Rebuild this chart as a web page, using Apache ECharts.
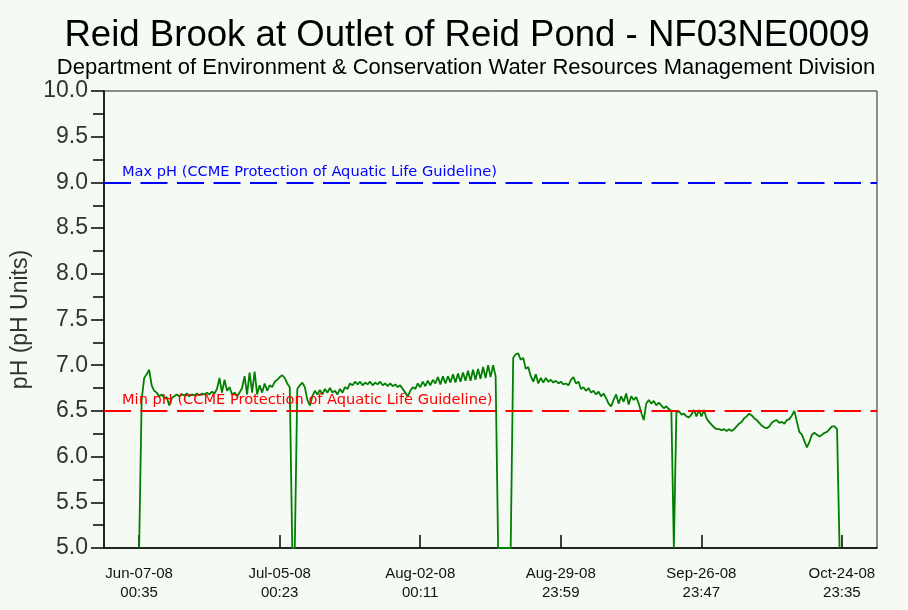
<!DOCTYPE html>
<html>
<head>
<meta charset="utf-8">
<script src="https://cdn.jsdelivr.net/npm/echarts@6/dist/echarts.min.js"></script>
<style>
  html, body { margin: 0; padding: 0; background: #f5faf5; }
  #chart { width: 908px; height: 610px; }
</style>
</head>
<body>
<div id="chart"></div>
<script>
// Station and chart text
const titleText = 'Reid Brook at Outlet of Reid Pond - NF03NE0009';
const subtitleText = 'Department of Environment & Conservation Water Resources Management Division';
const yAxisName = 'pH (pH Units)';

// Date/time tick labels along the bottom axis
const xTickLabels = [
  'Jun-07-08 00:35', 'Jul-05-08 00:23', 'Aug-02-08 00:11',
  'Aug-29-08 23:59', 'Sep-26-08 23:47', 'Oct-24-08 23:35'
];

// pH readings, one every 12 hours from the first reading.
// Dropouts (no reading) are logged at the bottom of the scale.
const firstReading = 'Jun-07-08 00:35';
const readingStepHours = 12;
const phReadings = [
  5.0, 6.62, 6.86, 6.90, 6.95, 6.78, 6.72, 6.70, 6.66, 6.68,
  6.64, 6.65, 6.56, 6.64, 6.66, 6.68, 6.66, 6.68, 6.67, 6.69,
  6.66, 6.68, 6.67, 6.69, 6.67, 6.69, 6.68, 6.70, 6.68, 6.71,
  6.69, 6.74, 6.86, 6.70, 6.84, 6.72, 6.76, 6.68, 6.70, 6.66,
  6.70, 6.75, 6.88, 6.68, 6.92, 6.70, 6.93, 6.68, 6.78, 6.70,
  6.80, 6.72, 6.78, 6.76, 6.82, 6.84, 6.87, 6.89, 6.86, 6.80,
  6.76, 5.0, 5.0, 6.74, 6.78, 6.81, 6.76, 6.62, 6.56, 6.66,
  6.72, 6.68, 6.73, 6.68, 6.74, 6.70, 6.75, 6.70, 6.72, 6.68,
  6.74, 6.70, 6.76, 6.74, 6.80, 6.78, 6.82, 6.79, 6.82, 6.78,
  6.81, 6.79, 6.82, 6.78, 6.81, 6.79, 6.82, 6.78, 6.80, 6.77,
  6.80, 6.77, 6.79, 6.76, 6.78, 6.74, 6.70, 6.66, 6.72, 6.76,
  6.74, 6.80, 6.76, 6.82, 6.77, 6.83, 6.78, 6.84, 6.80, 6.87,
  6.79, 6.88, 6.80, 6.88, 6.81, 6.90, 6.81, 6.91, 6.82, 6.92,
  6.83, 6.94, 6.83, 6.95, 6.84, 6.96, 6.85, 6.98, 6.86, 7.00,
  6.87, 7.00, 6.88, 5.0, 5.0, 5.0, 5.0, 5.0, 5.0, 7.08,
  7.12, 7.13, 7.06, 7.08, 6.96, 6.98, 6.88, 6.82, 6.90, 6.80,
  6.86, 6.81, 6.86, 6.82, 6.84, 6.81, 6.83, 6.80, 6.82, 6.79,
  6.80, 6.78, 6.84, 6.87, 6.80, 6.82, 6.74, 6.76, 6.72, 6.75,
  6.70, 6.72, 6.68, 6.71, 6.66, 6.69, 6.64, 6.58, 6.55, 6.62,
  6.68, 6.58, 6.66, 6.60, 6.69, 6.57, 6.66, 6.62, 6.65, 6.58,
  6.48, 6.40, 6.58, 6.62, 6.58, 6.61, 6.56, 6.59, 6.56, 6.53,
  6.55, 6.52, 6.50, 5.0, 6.48, 6.50, 6.46, 6.47, 6.44, 6.43,
  6.46, 6.51, 6.44, 6.51, 6.44, 6.51, 6.42, 6.38, 6.35, 6.32,
  6.30, 6.30, 6.29, 6.30, 6.28, 6.30, 6.28, 6.30, 6.33, 6.36,
  6.38, 6.42, 6.44, 6.47, 6.45, 6.42, 6.40, 6.37, 6.34, 6.32,
  6.31, 6.33, 6.37, 6.39, 6.40, 6.37, 6.38, 6.36, 6.40, 6.41,
  6.45, 6.50, 6.38, 6.27, 6.24, 6.17, 6.10, 6.16, 6.24, 6.26,
  6.24, 6.22, 6.24, 6.26, 6.27, 6.30, 6.33, 6.33, 6.30, 5.0
];

// CCME aquatic life guideline limits
const guidelineNames = [
  'Max pH (CCME Protection of Aquatic Life Guideline)',
  'Min pH (CCME Protection of Aquatic Life Guideline)'
];
const guidelineValues = [9.0, 6.5];
const guidelineColors = ['#0000ff', '#ff0000'];

const yMin = 5.0, yMax = 10.0, yStep = 0.5;

const MONTHS = ['Jan','Feb','Mar','Apr','May','Jun','Jul','Aug','Sep','Oct','Nov','Dec'];
function parseStamp(s) {
  const [date, time] = s.split(' ');
  const [mon, day, yy] = date.split('-');
  const [hh, mm] = time.split(':');
  return Date.UTC(2000 + Number(yy), MONTHS.indexOf(mon), Number(day), Number(hh), Number(mm));
}

const tickTimes = xTickLabels.map(parseStamp);
const tickText = new Map(xTickLabels.map((s, i) => [tickTimes[i], s.replace(' ', '\n')]));
const t0 = parseStamp(firstReading);
const stepMs = readingStepHours * 3600 * 1000;
const seriesData = phReadings.map((v, i) => [t0 + i * stepMs, v]);

const span = tickTimes[tickTimes.length - 1] - tickTimes[0];
const xMin = tickTimes[0] - span * 0.05;
const xMax = tickTimes[tickTimes.length - 1] + span * 0.05;

const FONT = 'Liberation Sans, Arial, sans-serif';

const chart = echarts.init(document.getElementById('chart'), null, { renderer: 'canvas' });
chart.setOption({
  animation: false,
  backgroundColor: '#f5faf5',
  title: [
    {
      text: titleText,
      left: 462, top: 12, textAlign: 'center',
      textStyle: { fontFamily: FONT, fontSize: 36.6, fontWeight: 'normal', color: '#000' }
    },
    {
      text: subtitleText,
      left: 461, top: 52, textAlign: 'center',
      textStyle: { fontFamily: FONT, fontSize: 22, fontWeight: 'normal', color: '#000' }
    }
  ],
  grid: {
    left: 104, right: 31, top: 91, bottom: 62,
    outerBoundsMode: 'none',
    containLabel: false,
    show: true, borderColor: '#222', borderWidth: 1, backgroundColor: 'transparent'
  },
  xAxis: {
    type: 'value',
    min: xMin, max: xMax,
    axisLine: { show: true, lineStyle: { color: '#000', width: 1.5 } },
    axisTick: {
      show: true, inside: true, length: 13, customValues: tickTimes,
      lineStyle: { color: '#000', width: 1.5 }
    },
    axisLabel: {
      show: true, customValues: tickTimes, margin: 16,
      fontFamily: FONT, fontSize: 15, lineHeight: 19, color: '#111',
      formatter: v => tickText.get(v) || ''
    },
    splitLine: { show: false }
  },
  yAxis: {
    type: 'value',
    min: yMin, max: yMax, interval: yStep,
    name: yAxisName, nameLocation: 'middle', nameGap: 70,
    nameTextStyle: { fontFamily: FONT, fontSize: 23, color: '#333' },
    axisLine: { show: true, lineStyle: { color: '#000', width: 1.5 } },
    axisTick: { show: true, inside: false, length: 13, lineStyle: { color: '#000', width: 1.5 } },
    minorTick: { show: true, splitNumber: 2, length: 11, lineStyle: { color: '#000', width: 1.5 } },
    axisLabel: {
      margin: 16, fontFamily: FONT, fontSize: 23, color: '#333',
      formatter: v => v.toFixed(1)
    },
    splitLine: { show: false }
  },
  series: [
    {
      name: 'pH',
      type: 'line',
      data: seriesData,
      showSymbol: false,
      symbol: 'none',
      clip: true,
      z: 2,
      lineStyle: { color: '#007f00', width: 1.8 }
    },
    {
      name: 'Guidelines',
      type: 'line',
      data: [],
      z: 3,
      markLine: {
        silent: true,
        symbol: ['none', 'none'],
        animation: false,
        data: guidelineValues.map((v, i) => ({
          yAxis: v,
          lineStyle: { color: guidelineColors[i], width: 2, type: [27, 9.5] },
          label: {
            show: true,
            position: 'insideStartTop',
            formatter: guidelineNames[i],
            color: guidelineColors[i],
            fontFamily: 'DejaVu Sans, sans-serif',
            fontSize: 14.6,
            distance: [18, 3]
          }
        }))
      }
    }
  ]
});
</script>
</body>
</html>
